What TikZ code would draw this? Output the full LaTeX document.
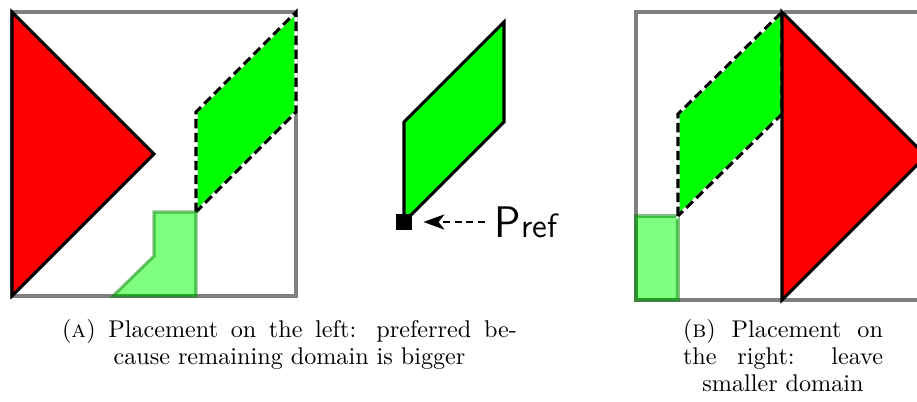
\documentclass[tikz,border=0pt]{standalone}
\usepackage{tikz}
\usetikzlibrary{positioning,arrows.meta}
\definecolor{obstacle}{RGB}{255,0,0}
\definecolor{module}{RGB}{0,255,0}
\definecolor{domainedge}{RGB}{128,128,128}
\newcommand{\capcenterlast}{\parindent=0pt\leftskip=0pt plus 1fil\rightskip=0pt plus -1fil\parfillskip=0pt plus 2fil
  \spaceskip=3.4pt plus 1.7pt minus 1.1pt\xspaceskip=4.6pt plus 3.4pt minus 1.1pt}

\begin{document}
\begin{tikzpicture}[x=0.43pt, y=-0.43pt,
  domainframe/.style={draw=domainedge, line width=1.3pt},
  placedblock/.style={draw=black, fill=obstacle, line width=1.3pt, line join=miter},
  candidate/.style={fill=module, draw=white, line width=1.3pt,
    postaction={draw=black, line width=1.3pt, dash pattern=on 4pt off 2pt}},
  moduleblock/.style={fill=module, draw=black, line width=1.3pt},
  remaining/.style={fill=module, fill opacity=0.5, draw=module!50!black,
    draw opacity=0.5, line width=1.3pt},
  refpoint/.style={fill=black, inner sep=0pt, minimum size=6.9pt},
  pointer/.style={densely dashed, line width=1pt, -{Stealth[length=9pt, width=6.5pt, inset=2.5pt]},
    shorten >=4.7pt, shorten <=4pt},
  captionbox/.style={anchor=north, inner sep=0pt, font=\fontsize{10.4}{11.5}\selectfont}
]
\useasboundingbox (0,0) rectangle (917,402);
\clip (0,0) rectangle (917,402);

% (a) placement on the left
\draw[domainframe] (12,12) rectangle (296,296);
\draw[placedblock] (12,12) -- (154,154) -- (12,296) -- cycle;
\draw[candidate] (196,212) -- (196,112) -- (296,12) -- (296,112) -- cycle;
\draw[remaining] (113,296) -- (154,256) -- (154,212) -- (196,212) -- (196,296) -- cycle;

% the module and its reference point
\draw[moduleblock] (404,222) -- (404,122) -- (504,22) -- (504,122) -- cycle;
\node[refpoint] (pref) at (404,222) {};
\node[inner sep=0pt, font=\sffamily] (preflabel) at (526,222)
  {{\fontsize{19}{20}\selectfont P}{\fontsize{14.5}{16}\selectfont ref}};
\draw[pointer] (preflabel.west) -- (pref.east);

% (b) placement on the right
\draw[domainframe] (636,12) rectangle (924,300);
\draw[remaining] (636,216) rectangle (678,300);
\draw[candidate] (678,216) -- (678,114) -- (782,12) -- (782,114) -- cycle;
\draw[placedblock] (782,12) -- (926,156) -- (782,300) -- cycle;

% captions
\node[captionbox, text width=195.6pt] (capa) at (289.5,319)
  {\capcenterlast (\textsc{a}) Placement on the left: preferred be-\linebreak cause remaining domain is bigger\par};
\node[captionbox, text width=86pt] (capb) at (783,319)
  {\capcenterlast (\textsc{b}) Placement on\linebreak the right: leave\linebreak smaller domain\par};
\end{tikzpicture}
\end{document}
